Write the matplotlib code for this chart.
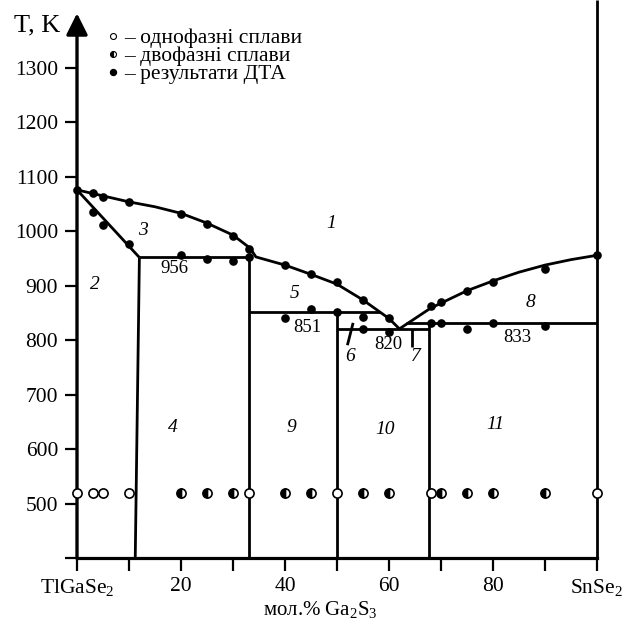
import matplotlib
matplotlib.use('Agg')
import matplotlib.pyplot as plt

plt.rcParams['font.family'] = ['Liberation Serif', 'DejaVu Serif']
plt.rcParams['mathtext.fontset'] = 'custom'
plt.rcParams['mathtext.rm'] = 'Liberation Serif'
plt.rcParams['mathtext.it'] = 'Liberation Serif:italic'

# ---------------- data (mol.% Ga2S3, T in K) ----------------
x_ticks = [0, 10, 20, 30, 40, 50, 60, 70, 80, 90, 100]
x_ticklabels = [r'TlGaSe$_\mathrm{2}$', '', '20', '', '40', '', '60', '', '80', '', r'SnSe$_\mathrm{2}$']
y_ticks = [400, 500, 600, 700, 800, 900, 1000, 1100, 1200, 1300]
y_ticklabels = ['', '500', '600', '700', '800', '900', '1000', '1100', '1200', '1300']

# liquidus curves
liq_left_x = [0, 5, 10, 15, 20, 25, 30, 33.3, 34.4, 40, 45, 50, 55, 60, 62]
liq_left_T = [1076, 1065, 1054, 1045, 1033, 1015, 993, 969, 953, 938, 921, 903, 874, 840, 821]
liq_right_x = [62, 68, 75, 80, 85, 90, 95, 100]
liq_right_T = [821, 859, 891, 909, 925, 938, 948, 956]

# solidus of TlGaSe2-based solid solution
sol_left_x = [0, 12]
sol_left_T = [1076, 952]

# invariant horizontals: (x_start, x_end, T)
inv_956 = (12, 33, 952)
inv_851 = (33, 58.2, 852)
inv_820 = (50, 67.75, 821)
inv_833 = (63.2, 100, 831)

# vertical phase boundaries: (x_top, T_top, x_bottom, T_bottom)
vert_12 = (12, 952, 11.2, 400)
vert_33 = (33, 952, 33, 400)
vert_50 = (50, 852, 50, 400)
vert_68 = (67.75, 831, 67.75, 400)
vert_100 = (100, 400, 100, 1424)
tick_6 = (53.1, 832, 52.0, 791)
tick_7 = (64.5, 821, 64.5, 788)

# DTA results
dta_x = [0, 3, 5, 10, 20, 25, 30, 33, 40, 45, 50, 55, 60,
         68, 70, 75, 80, 90, 100,
         3, 5, 10,
         20, 25, 30, 33,
         40, 45, 50,
         55, 55, 60,
         68, 70, 75, 80, 90]
dta_T = [1076, 1070, 1063, 1054, 1032, 1013, 991, 967, 938, 921, 907, 874, 840,
         863, 871, 891, 907, 930, 956,
         1036, 1012, 977,
         956, 950, 946, 952,
         840, 857, 852,
         842, 820, 816,
         831, 831, 820, 831, 826]

# annealed samples (XRD)
sample_T = 520
single_x = [0, 3, 5, 10, 33, 50, 68, 100]
two_x = [20, 25, 30, 40, 45, 55, 60, 70, 75, 80, 90]

region_names = ['1', '2', '3', '4', '5', '6', '7', '8', '9', '10', '11']
temp_names = ['956', '851', '820', '833']
legend_texts = ['– однофазні сплави', '– двофазні сплави', '– результати ДТА']

# ---------------- layout ----------------
region_pos = [(48.9, 1015), (3.5, 903), (12.6, 1002), (18.5, 640), (41.9, 886),
              (52.5, 770), (65.2, 771), (87.3, 869), (41.2, 640), (59.2, 636), (80.4, 645)]
temp_pos = [(18.7, 932), (44.2, 824), (59.9, 793), (84.7, 805)]

fig = plt.figure(figsize=(6.3, 6.23), dpi=100)
ax = fig.add_axes([77 / 630, 1 - 558.3 / 623, 520 / 630, 558.3 / 623])
ax.set_xlim(0, 100)
ax.set_ylim(400, 1424.4)
ax.patch.set_visible(False)
for s in ['top', 'right', 'left']:
    ax.spines[s].set_visible(False)
ax.spines['bottom'].set_linewidth(2.3)

ax.set_xticks(x_ticks)
ax.set_xticklabels(x_ticklabels)
ax.set_yticks(y_ticks)
ax.set_yticklabels(y_ticklabels)
ax.tick_params(axis='x', direction='out', length=9.5, width=1.6, pad=4, labelsize=15.5)
ax.tick_params(axis='y', direction='out', length=8.6, width=1.6, pad=5, labelsize=15.5)

# y axis with arrow
ax.annotate('', xy=(0, 1400), xytext=(0, 400),
            arrowprops=dict(arrowstyle='-|>,head_length=13,head_width=6.5', lw=2.4,
                            color='k', mutation_scale=1, shrinkA=0, shrinkB=0),
            annotation_clip=False)

LW = 2.0
kw = dict(color='k', lw=LW, solid_capstyle='butt', clip_on=False)
ax.plot(liq_left_x, liq_left_T, solid_joinstyle='round', **kw)
ax.plot(liq_right_x, liq_right_T, solid_joinstyle='round', **kw)
ax.plot(sol_left_x, sol_left_T, **kw)
for x0, x1, t in [inv_956, inv_851, inv_820, inv_833]:
    ax.plot([x0, x1], [t, t], **kw)
for x0, t0, x1, t1 in [vert_12, vert_33, vert_50, vert_68, vert_100, tick_6, tick_7]:
    ax.plot([x0, x1], [t0, t1], **kw)

# points
ax.plot(dta_x, dta_T, 'o', color='k', ms=5.2, ls='none', clip_on=False, zorder=5)
ax.plot(single_x, [sample_T] * len(single_x), 'o', ms=6.6, mfc='white', mec='k', mew=1.2,
        ls='none', clip_on=False, zorder=5)
ax.plot(two_x, [sample_T] * len(two_x), 'o', ms=6.6, fillstyle='left', mfc='k', mfcalt='white',
        mec='k', mew=1.2, ls='none', clip_on=False, zorder=5)

# labels
for name, (x, t) in zip(region_names, region_pos):
    ax.text(x, t, name, fontsize=14, style='italic', ha='center', va='center')
for name, (x, t) in zip(temp_names, temp_pos):
    ax.text(x, t, name, fontsize=13.5, ha='center', va='center')

# legend
leg_T = [1358, 1325, 1292]
ax.plot(7.0, leg_T[0], 'o', ms=4.3, mfc='white', mec='k', mew=0.8, clip_on=False)
ax.plot(7.0, leg_T[1], 'o', ms=4.3, fillstyle='left', mfc='k', mfcalt='white', mec='k', mew=0.8,
        clip_on=False)
ax.plot(7.0, leg_T[2], 'o', ms=4.3, color='k', clip_on=False)
for txt, t in zip(legend_texts, leg_T):
    ax.text(9.0, t - 4, txt, fontsize=15.5, ha='left', va='center')

ax.text(-7.7, 1378, 'T, K', fontsize=19, ha='center', va='center')
fig.text(320 / 630, 1 - 609 / 623, r'мол.% Ga$_\mathrm{2}$S$_\mathrm{3}$', fontsize=15,
         ha='center', va='center')

fig.savefig('out.png', dpi=100)
